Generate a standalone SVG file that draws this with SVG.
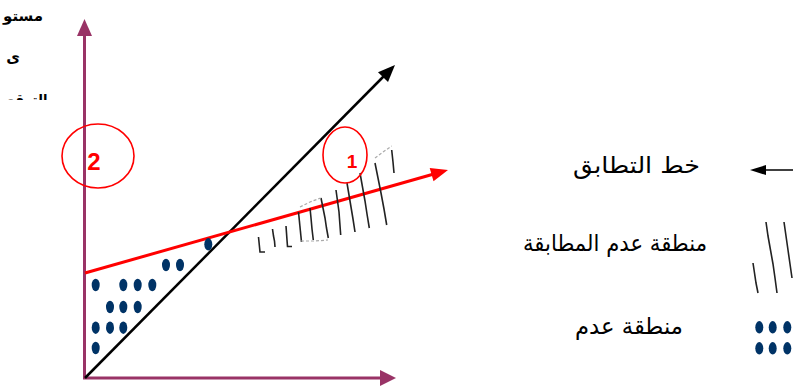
<svg xmlns="http://www.w3.org/2000/svg" width="793" height="386" viewBox="0 0 793 386">
<style>
.ar{font-family:"DejaVu Sans","Liberation Sans",sans-serif;fill:#000}
.lbl{font-family:"Liberation Sans",Arial,sans-serif;font-weight:bold;fill:#ff0000;text-anchor:middle}
.hat{fill:none;stroke:#222;stroke-width:1.6}
.faint{fill:none;stroke:#aaa;stroke-width:1.2;stroke-dasharray:3 2}
.dot{fill:#003366}
.circ{fill:none;stroke:#ff0000;stroke-width:1.6}
</style>
<defs>
<clipPath id="clipTop"><rect x="0" y="0" width="80" height="100"/></clipPath>
<ellipse id="d" class="dot" rx="4" ry="6.2"/>
</defs>
<rect width="793" height="386" fill="#fff"/>

<g id="ylabel" clip-path="url(#clipTop)">
<text class="ar" font-weight="bold" font-size="15" x="23" y="21" text-anchor="middle" textLength="40" lengthAdjust="spacingAndGlyphs">مستو</text>
<text class="ar" font-weight="bold" font-size="15" x="13" y="62" text-anchor="middle">ى</text>
<text class="ar" font-weight="bold" font-size="15" x="27" y="105" text-anchor="middle" textLength="41" lengthAdjust="spacingAndGlyphs">التوقع</text>
</g>

<g id="connectors">
<!-- axes -->
<line x1="84.5" y1="378" x2="84.5" y2="34" stroke="#993366" stroke-width="3"/>
<polygon points="84.5,19 77,36 92,36" fill="#993366"/>
<line x1="83" y1="378" x2="382" y2="378" stroke="#993366" stroke-width="3"/>
<polygon points="396,378 380,370 380,386" fill="#993366"/>
<!-- black line -->
<line x1="85" y1="378" x2="384" y2="76" stroke="#000" stroke-width="2.5"/>
<polygon points="395,65 388,82 378,72.2" fill="#000"/>
<!-- red line -->
<line x1="85" y1="273" x2="433" y2="174.3" stroke="#ff0000" stroke-width="3"/>
<polygon points="448,170 433.5,181.3 429.7,167.9" fill="#ff0000"/>
</g>

<g id="hatch">
<polyline class="hat" points="258.5,237 259,242 259.5,247 260,252 265,252"/>
<polyline class="hat" points="272.5,229 273.5,236 274.5,241 275,247"/>
<polyline class="hat" points="286,226 286.5,233 287,240 287.5,246.5 292,246.5"/>
<polyline class="hat" points="298.5,212 299.5,222 300.5,232 301.5,242"/>
<polyline class="hat" points="310,208 311,218 312,229 313.3,240"/>
<polyline class="hat" points="321,198 323,208 325,218 326.5,228 328.3,238"/>
<polyline class="hat" points="336,190 337.5,201 339,212 339.8,223 340.7,235"/>
<polyline class="hat" points="347,183 349,195 351,207 353,219 355,232"/>
<polyline class="hat" points="360,173 362.5,187 365,201 367,214 369.3,228"/>
<polyline class="hat" points="375,163 378,178 381,193 384,209 386.7,225"/>
<polyline class="hat" points="391.7,150 393,162 394,173"/>
<polyline class="faint" points="300,207 310,202 320.7,198"/>
<polyline class="faint" points="375,158 383,152 391.7,146"/>
<polyline class="faint" points="301,241 315,241 328,240"/>
</g>

<g id="dots">
<use href="#d" x="208.3" y="244.3"/>
<use href="#d" x="166" y="265"/>
<use href="#d" x="180" y="265"/>
<use href="#d" x="95.7" y="285"/>
<use href="#d" x="123.3" y="285"/>
<use href="#d" x="137.7" y="285"/>
<use href="#d" x="152.3" y="285"/>
<use href="#d" x="110" y="307"/>
<use href="#d" x="123.3" y="307"/>
<use href="#d" x="137.7" y="307"/>
<use href="#d" x="95.7" y="327.7"/>
<use href="#d" x="110" y="327.7"/>
<use href="#d" x="123.3" y="327.7"/>
<use href="#d" x="95.7" y="348"/>
</g>

<g id="region2">
<ellipse class="circ" cx="98" cy="156" rx="36" ry="32"/>
<text class="lbl" font-size="24" x="94" y="170">2</text>
</g>

<g id="region1">
<ellipse class="circ" cx="345" cy="155" rx="22" ry="28"/>
<text class="lbl" font-size="19" x="352" y="168">1</text>
</g>

<g id="legend-line">
<line x1="765" y1="170" x2="793" y2="170" stroke="#000" stroke-width="1.5"/>
<polygon points="750,170 766,165 766,175" fill="#000"/>
<text class="ar" font-size="23" x="636.5" y="173" text-anchor="middle" textLength="127" lengthAdjust="spacingAndGlyphs">خط التطابق</text>
</g>

<g id="legend-hatch">
<polyline class="hat" points="766,222 768,236 770.5,250 773,264 775,278 777,293"/>
<polyline class="hat" points="784,222 786,236 788,250 790,264 792,278"/>
<polyline class="hat" points="753,263 754.5,273 756,283 758,293"/>
<text class="ar" font-size="23" x="615" y="251" text-anchor="middle" textLength="184" lengthAdjust="spacingAndGlyphs">منطقة عدم المطابقة</text>
</g>

<g id="legend-dots">
<use href="#d" x="759.3" y="327.3"/>
<use href="#d" x="772.7" y="327.3"/>
<use href="#d" x="787.3" y="327.3"/>
<use href="#d" x="759.3" y="348.3"/>
<use href="#d" x="772.7" y="348.3"/>
<use href="#d" x="787.3" y="348.3"/>
<text class="ar" font-size="23" x="629" y="334" text-anchor="middle" textLength="108" lengthAdjust="spacingAndGlyphs">منطقة عدم</text>
</g>
</svg>
